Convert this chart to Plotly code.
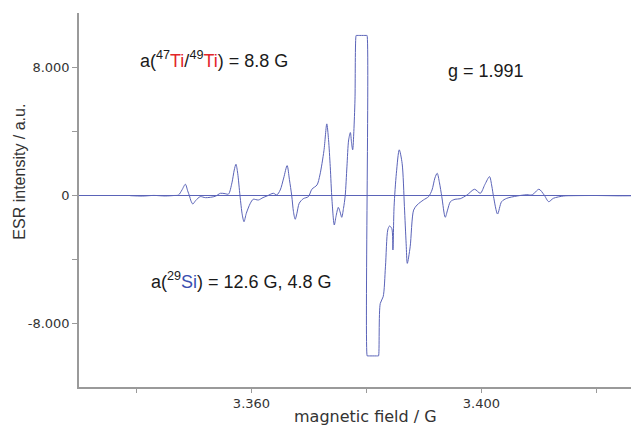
import plotly.graph_objects as go

# ---- data ----
field_G = [
    3338.9, 3341.0, 3343.0, 3345.0, 3346.5, 3347.3, 3347.9, 3348.5, 3348.9, 3349.2,
    3349.5, 3349.8, 3350.3, 3351.1, 3352.0, 3353.7, 3354.6, 3355.4, 3356.0, 3356.6,
    3357.0, 3357.3, 3357.6, 3358.0, 3358.4, 3358.7, 3359.1, 3359.8, 3360.3, 3361.2,
    3362.0, 3362.7, 3363.8, 3364.4, 3365.0, 3365.6, 3366.2, 3366.6, 3367.0, 3367.3,
    3367.6, 3367.9, 3368.3, 3369.0, 3369.9, 3370.5, 3371.4, 3371.9, 3372.6, 3373.1,
    3373.4, 3373.7, 3374.0, 3374.4, 3374.7, 3375.1, 3375.4, 3375.7, 3376.0, 3376.3,
    3376.6, 3376.9, 3377.2, 3377.4, 3377.6, 3377.8, 3378.0, 3378.2, 3378.25, 3380.05,
    3380.10, 3380.12, 3380.17, 3382.05, 3382.1,
    3382.4, 3382.9, 3383.3, 3383.7, 3384.0, 3384.4, 3384.6, 3384.8, 3385.2,
    3385.7, 3386.2, 3386.6, 3386.9, 3387.1, 3387.6, 3388.2, 3388.8, 3389.9, 3390.8,
    3391.4, 3391.9, 3392.3, 3392.7, 3393.1, 3393.7, 3394.1, 3394.6, 3395.4, 3396.3,
    3397.5, 3398.8, 3399.8, 3400.6, 3401.4, 3401.8, 3402.1, 3402.8, 3403.5, 3404.4,
    3406.2, 3407.9, 3408.8, 3410.0, 3410.9, 3411.7, 3412.5, 3414.3, 3416.0, 3420.0,
    3424.0, 3427.4,
]
esr_intensity = [
    0, -25, 15, -20, 10, 40, 350, 713, 300, 0,
    -350, -520, -300, -60, -125, -40, 150, 125, 100, 800,
    1600, 1960, 1400, 0, -1200, -1625, -1100, -475, -225, -270,
    -120, -20, 150, 45, 356, 1100, 1875, 1000, 0, -1000,
    -1475, -1100, -475, -190, -60, 400, 670, 1290, 2800, 4480,
    3500, 1810, -270, -1830, -1300, -730, -1000, -1350, -800, 0,
    1800, 3480, 3940, 3300, 2860, 4000, 5980, 10000, 10000, 10000,
    10000, -10000, -10000, -10000, -10000,
    -6725, -6310, -4440, -2145, -1895, -2040, -3390, -690, 1400,
    2860, 2020, -690, -3000, -4225, -3190, -900, -580, -270, -60,
    356, 1100, 1400, 800, -60, -1350, -900, -375, -225, -190,
    45, 400, 150, 700, 1190, 600, -60, -1145, -375, -165,
    -20, 60, 45, 400, 45, -375, -165, -20, 0, 10,
    -10, 0,
]

x_tick_vals = [3360, 3400]
x_tick_text = ["3.360", "3.400"]
x_minor_vals = [3340, 3380, 3420]
y_tick_vals = [-8000, 0, 8000]
y_tick_text = ["-8.000", "0", "8.000"]
y_minor_vals = [-4000, 4000]

x_title = "magnetic field / G"
y_title = "ESR intensity / a.u."
label_ti = "a(<sup>47</sup><span style='color:#e3262a'>Ti</span>/<sup>49</sup><span style='color:#e3262a'>Ti</span>) = 8.8 G"
label_g = "g = 1.991"
label_si = "a(<sup>29</sup><span style='color:#3a4fb0'>Si</span>) = 12.6 G, 4.8 G"

LINE = "#5a63b8"
AXIS = "#9a9a9a"

fig = go.Figure()
fig.add_trace(go.Scatter(
    x=field_G, y=esr_intensity, mode="lines",
    line=dict(color=LINE, width=1, shape="spline", smoothing=0.8),
    hoverinfo="skip", showlegend=False,
))

tickfont = dict(family="DejaVu Sans", size=13, color="#333333")

# the page body has an 8px margin, so the figure is drawn 8px smaller and
# the margins are reduced by 8px to land on the reference positions
fig.update_layout(
    width=631, height=417, autosize=False,
    margin=dict(l=71, r=0, t=5, b=38),
    plot_bgcolor="white", paper_bgcolor="white",
    xaxis=dict(
        range=[3330, 3427.4], showgrid=False, zeroline=False,
        showline=True, linecolor=AXIS, linewidth=1.5,
        tickmode="array", tickvals=x_tick_vals, ticktext=x_tick_text,
        ticks="outside", ticklen=4, tickcolor=AXIS, tickwidth=1,
        minor=dict(tickmode="array", tickvals=x_minor_vals, ticks="outside",
                   ticklen=4, tickcolor=AXIS, tickwidth=1),
        tickfont=tickfont,
    ),
    yaxis=dict(
        range=[-11940, 11400], showgrid=False,
        zeroline=True, zerolinecolor=LINE, zerolinewidth=1,
        showline=True, linecolor=AXIS, linewidth=1.5,
        tickmode="array", tickvals=y_tick_vals, ticktext=y_tick_text,
        ticks="outside", ticklen=5, tickcolor=AXIS, tickwidth=1,
        minor=dict(tickmode="array", tickvals=y_minor_vals, ticks="outside",
                   ticklen=5, tickcolor=AXIS, tickwidth=1),
        tickfont=tickfont,
    ),
)

annfont = dict(family="Liberation Sans, Arial", size=18, color="#1a1a1a")
fig.add_annotation(x=3340.3, y=8480, xref="x", yref="y", text=label_ti,
                   showarrow=False, xanchor="left", yanchor="middle", font=annfont)
fig.add_annotation(x=3393.8, y=7794, xref="x", yref="y", text=label_g,
                   showarrow=False, xanchor="left", yanchor="middle", font=annfont)
fig.add_annotation(x=3342.2, y=-5269, xref="x", yref="y", text=label_si,
                   showarrow=False, xanchor="left", yanchor="middle", font=annfont)

fig.add_annotation(x=0.512, y=0, xref="paper", yref="paper", text=x_title,
                   showarrow=False, xanchor="center", yanchor="middle", yshift=-29,
                   font=dict(family="DejaVu Sans", size=16, color="#333333"))
fig.add_annotation(x=0, y=0.5758, xref="paper", yref="paper", text=y_title,
                   showarrow=False, xanchor="center", yanchor="middle", xshift=-59,
                   textangle=-90,
                   font=dict(family="Liberation Sans, Arial", size=16, color="#333333"))

fig.write_html("out.html")
